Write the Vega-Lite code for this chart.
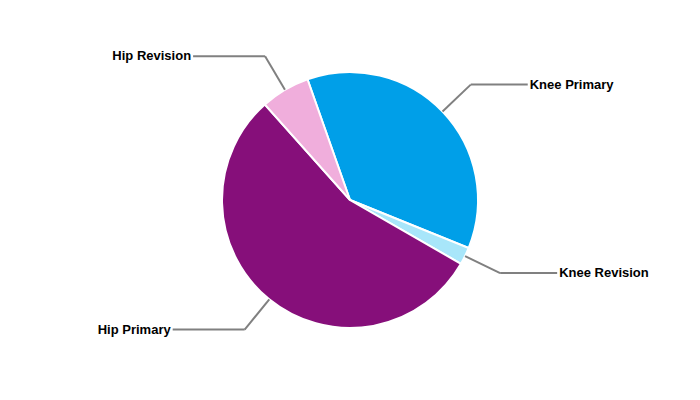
{
  "$schema": "https://vega.github.io/schema/vega-lite/v6.json",
  "width": 700,
  "height": 400,
  "autosize": {"type": "fit", "contains": "padding"},
  "padding": 0,
  "background": "white",
  "config": {"view": {"stroke": null}},
  "data": {
    "values": [
      {"category": "Knee Primary", "value": 36.5, "order": 1},
      {"category": "Knee Revision", "value": 2.2, "order": 2},
      {"category": "Hip Primary", "value": 55.1, "order": 3},
      {"category": "Hip Revision", "value": 6.2, "order": 4}
    ]
  },
  "layer": [
    {
      "mark": {"type": "arc", "outerRadius": 128, "stroke": "white", "strokeWidth": 2},
      "encoding": {
        "theta": {"field": "value", "type": "quantitative", "stack": true, "scale": {"range": [-0.3386, 5.9446]}},
        "order": {"field": "order", "type": "quantitative", "sort": "ascending"},
        "color": {
          "field": "category",
          "type": "nominal",
          "legend": null,
          "scale": {
            "domain": ["Knee Primary", "Knee Revision", "Hip Primary", "Hip Revision"],
            "range": ["#009FE8", "#A8E6FA", "#860F7A", "#F0AEDC"]
          }
        }
      }
    },
    {
      "transform": [
        {"joinaggregate": [{"op": "sum", "field": "value", "as": "total"}]},
        {"window": [{"op": "sum", "field": "value", "as": "cum"}], "sort": [{"field": "order", "order": "ascending"}], "frame": [null, 0]},
        {"calculate": "-0.3386 + 2*PI*(datum.cum - datum.value/2)/datum.total", "as": "mid"},
        {"calculate": "128*sin(datum.mid)", "as": "sx"},
        {"calculate": "128*cos(datum.mid)", "as": "sy"},
        {"calculate": "167*sin(datum.mid)", "as": "ex"},
        {"calculate": "167*cos(datum.mid)", "as": "ey"},
        {"calculate": "datum.ex + (sin(datum.mid) > 0 ? 57 : -72)", "as": "tx"},
        {"calculate": "datum.tx + (sin(datum.mid) > 0 ? 2 : -2)", "as": "lx"},
        {"calculate": "sin(datum.mid) > 0 ? 'left' : 'right'", "as": "side"}
      ],
      "layer": [
        {
          "mark": {"type": "rule", "color": "#808080", "strokeWidth": 2},
          "encoding": {
            "x": {"field": "sx", "type": "quantitative", "scale": {"domain": [-350, 350], "nice": false, "zero": false}, "axis": null},
            "y": {"field": "sy", "type": "quantitative", "scale": {"domain": [-200, 200], "nice": false, "zero": false}, "axis": null},
            "x2": {"field": "ex"},
            "y2": {"field": "ey"}
          }
        },
        {
          "mark": {"type": "rule", "color": "#808080", "strokeWidth": 2},
          "encoding": {
            "x": {"field": "ex", "type": "quantitative", "axis": null},
            "y": {"field": "ey", "type": "quantitative", "axis": null},
            "x2": {"field": "tx"},
            "y2": {"field": "ey"}
          }
        },
        {
          "transform": [{"filter": "datum.side == 'left'"}],
          "mark": {"type": "text", "align": "left", "baseline": "middle", "font": "Liberation Sans", "fontSize": 13, "fontWeight": "bold", "color": "black"},
          "encoding": {
            "x": {"field": "lx", "type": "quantitative", "axis": null},
            "y": {"field": "ey", "type": "quantitative", "axis": null},
            "text": {"field": "category"}
          }
        },
        {
          "transform": [{"filter": "datum.side == 'right'"}],
          "mark": {"type": "text", "align": "right", "baseline": "middle", "font": "Liberation Sans", "fontSize": 13, "fontWeight": "bold", "color": "black"},
          "encoding": {
            "x": {"field": "lx", "type": "quantitative", "axis": null},
            "y": {"field": "ey", "type": "quantitative", "axis": null},
            "text": {"field": "category"}
          }
        }
      ]
    }
  ]
}
